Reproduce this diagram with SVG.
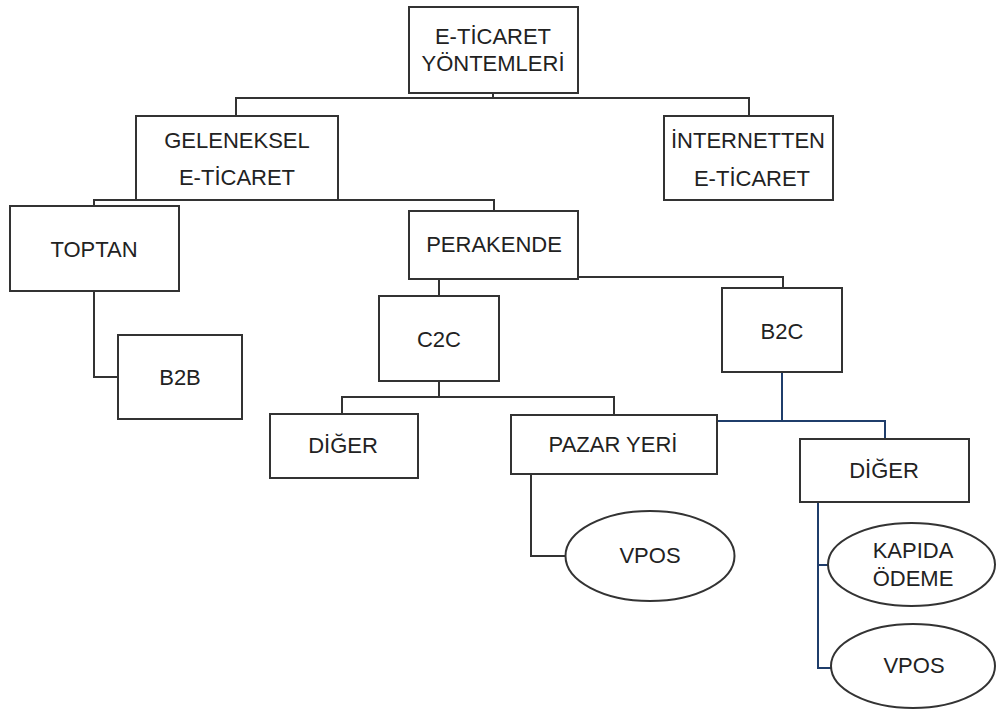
<svg xmlns="http://www.w3.org/2000/svg" width="996" height="714" viewBox="0 0 996 714">
<style>
.n{fill:#fff;stroke:#333;stroke-width:2}
.t{font-family:"Liberation Sans",Arial,sans-serif;font-size:22px;fill:#222;text-anchor:middle}
.c{fill:none;stroke:#333;stroke-width:2}
.b{fill:none;stroke:#1f3d6b;stroke-width:2}
</style>
<rect width="996" height="714" fill="#fff"/>
<g id="connectors">
<path class="c" d="M493,93V98M236,116V98H749V116"/>
<path class="c" d="M94,206V200H494V211"/>
<path class="c" d="M439,279V296"/>
<path class="c" d="M578,277H783V288"/>
<path class="c" d="M94,291V377H118"/>
<path class="c" d="M439,381V397M342,414V397H614V415"/>
<path class="c" d="M531,474V556H566"/>
<path class="b" d="M782,372V421M717,421H885V439"/>
<path class="b" d="M818,502V668H831M818,565H828"/>
</g>
<g id="n-root"><rect class="n" x="409" y="7" width="169" height="86"/><text class="t" x="493" y="44">E-TİCARET</text><text class="t" x="493" y="71">YÖNTEMLERİ</text></g>
<g id="n-geleneksel"><rect class="n" x="136" y="116" width="202" height="84"/><text class="t" x="237" y="148">GELENEKSEL</text><text class="t" x="237" y="185">E-TİCARET</text></g>
<g id="n-internet"><rect class="n" x="664" y="116" width="169" height="84"/><text class="t" x="748" y="148">İNTERNETTEN</text><text class="t" x="752" y="186">E-TİCARET</text></g>
<g id="n-toptan"><rect class="n" x="10" y="206" width="169" height="85"/><text class="t" x="94" y="257">TOPTAN</text></g>
<g id="n-perakende"><rect class="n" x="409" y="211" width="169" height="68"/><text class="t" x="494" y="252">PERAKENDE</text></g>
<g id="n-b2b"><rect class="n" x="118" y="335" width="124" height="84"/><text class="t" x="180" y="385">B2B</text></g>
<g id="n-c2c"><rect class="n" x="379" y="296" width="120" height="85"/><text class="t" x="439" y="347">C2C</text></g>
<g id="n-b2c"><rect class="n" x="722" y="288" width="120" height="84"/><text class="t" x="782" y="339">B2C</text></g>
<g id="n-diger1"><rect class="n" x="270" y="414" width="148" height="64"/><text class="t" x="343" y="453">DİĞER</text></g>
<g id="n-pazar"><rect class="n" x="511" y="415" width="206" height="59"/><text class="t" x="613" y="452">PAZAR YERİ</text></g>
<g id="n-diger2"><rect class="n" x="800" y="439" width="169" height="63"/><text class="t" x="884" y="478">DİĞER</text></g>
<g id="n-vpos1"><ellipse class="n" cx="650" cy="556" rx="84.5" ry="45"/><text class="t" x="650" y="563">VPOS</text></g>
<g id="n-kapida"><ellipse class="n" cx="911.5" cy="564.5" rx="83.5" ry="41.5"/><text class="t" x="913" y="558">KAPIDA</text><text class="t" x="913" y="586">ÖDEME</text></g>
<g id="n-vpos2"><ellipse class="n" cx="913" cy="666" rx="82" ry="42"/><text class="t" x="914" y="673">VPOS</text></g>
</svg>
